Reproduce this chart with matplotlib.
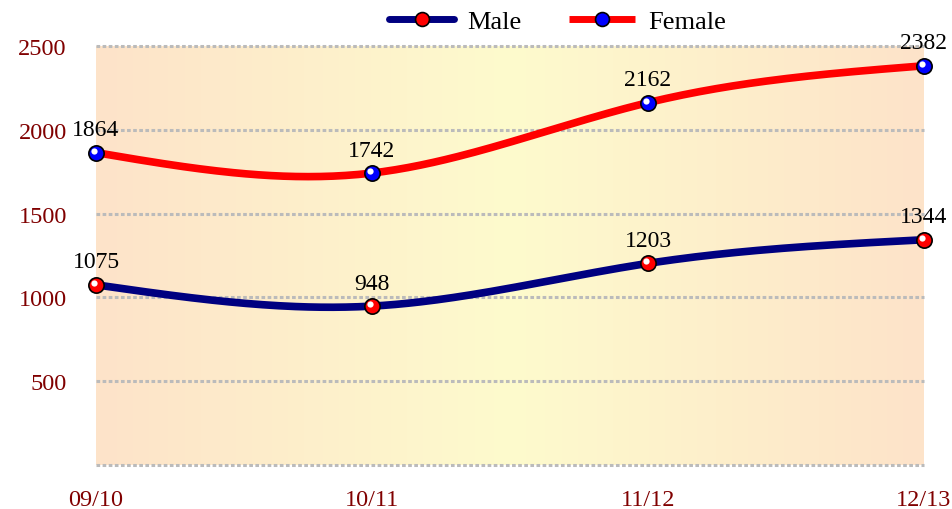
import numpy as np
import matplotlib.pyplot as plt
from matplotlib.colors import LinearSegmentedColormap
from matplotlib.lines import Line2D

seasons = ['09/10', '10/11', '11/12', '12/13']
male = [1075, 948, 1203, 1344]
female = [1864, 1742, 2162, 2382]

plt.rcParams['font.family'] = ['Liberation Serif', 'DejaVu Serif']


def natural_spline(x, y, n=200):
    # plain natural cubic spline for the smooth line between the points
    x = np.asarray(x, float)
    y = np.asarray(y, float)
    k = len(x)
    h = np.diff(x)
    A = np.zeros((k, k))
    b = np.zeros(k)
    A[0, 0] = A[-1, -1] = 1
    for i in range(1, k - 1):
        A[i, i - 1] = h[i - 1]
        A[i, i] = 2 * (h[i - 1] + h[i])
        A[i, i + 1] = h[i]
        b[i] = 3 * ((y[i + 1] - y[i]) / h[i] - (y[i] - y[i - 1]) / h[i - 1])
    c = np.linalg.solve(A, b)
    xs = np.linspace(x[0], x[-1], n)
    ys = np.empty_like(xs)
    for j, xv in enumerate(xs):
        i = min(np.searchsorted(x, xv, side='right') - 1, k - 2)
        bb = (y[i + 1] - y[i]) / h[i] - h[i] * (2 * c[i] + c[i + 1]) / 3
        d = (c[i + 1] - c[i]) / (3 * h[i])
        t = xv - x[i]
        ys[j] = y[i] + bb * t + c[i] * t ** 2 + d * t ** 3
    return xs, ys


fig = plt.figure(figsize=(9.53, 5.10), dpi=100)
ax = fig.add_axes([96 / 953, 44 / 510, 828 / 953, 419 / 510])

xpos = np.arange(len(seasons))
ax.set_xlim(0, len(seasons) - 1)
ax.set_ylim(0, 2500)

# horizontal gradient background
cmap = LinearSegmentedColormap.from_list('bg', ['#fde3c9', '#fdfbcd', '#fde3c9'])
grad = np.linspace(0, 1, 256).reshape(1, -1)
ax.imshow(grad, cmap=cmap, aspect='auto', extent=[0, len(seasons) - 1, 0, 2500],
          zorder=0, interpolation='bicubic')

for yv in [0, 500, 1000, 1500, 2000, 2500]:
    ax.axhline(yv, color='#bbbbbb', lw=2.2, ls=(0, (1.2, 0.8)), zorder=1, clip_on=False)

series = [(male, '#000080', 'red', 'Male', 'round'),
          (female, 'red', 'blue', 'Female', 'butt')]
for vals, lc, mc, name, cap in series:
    xs, ys = natural_spline(xpos, vals)
    ax.plot(xs, ys, color=lc, lw=5.5, solid_capstyle=cap, zorder=3, clip_on=False)
    ax.plot(xpos, vals, 'o', ms=11, mfc=mc, mec='black', mew=1.2, zorder=4, clip_on=False)
    ax.plot(xpos - 0.008, np.array(vals) + 12, 'o', ms=4.5, mfc='white', mec='none',
            zorder=5, clip_on=False)
    for xv, v in zip(xpos, vals):
        ax.annotate(str(v), (xv, v), xytext=(0, 9), textcoords='offset points',
                    ha='center', va='bottom', fontsize=17, color='black', zorder=6)

for s in ax.spines.values():
    s.set_visible(False)
ax.set_xticks(xpos)
ax.set_xticklabels(seasons)
ax.set_yticks([500, 1000, 1500, 2000, 2500])
ax.tick_params(axis='both', length=0, labelsize=17.5, labelcolor='#800000')
ax.tick_params(axis='x', pad=17)
ax.tick_params(axis='y', pad=21)

handles = [
    Line2D([], [], color='#000080', lw=5, solid_capstyle='round', marker='o', ms=10,
           mfc='red', mec='black', mew=1.2),
    Line2D([], [], color='red', lw=5, solid_capstyle='butt', marker='o', ms=10,
           mfc='blue', mec='black', mew=1.2),
]
fig.legend(handles, ['Male', 'Female'], loc='upper center', bbox_to_anchor=(0.585, 1.025),
           ncol=2, frameon=False, fontsize=19, handlelength=2.5, columnspacing=1.8,
           handletextpad=0.5)

fig.savefig('out.png', dpi=100)
